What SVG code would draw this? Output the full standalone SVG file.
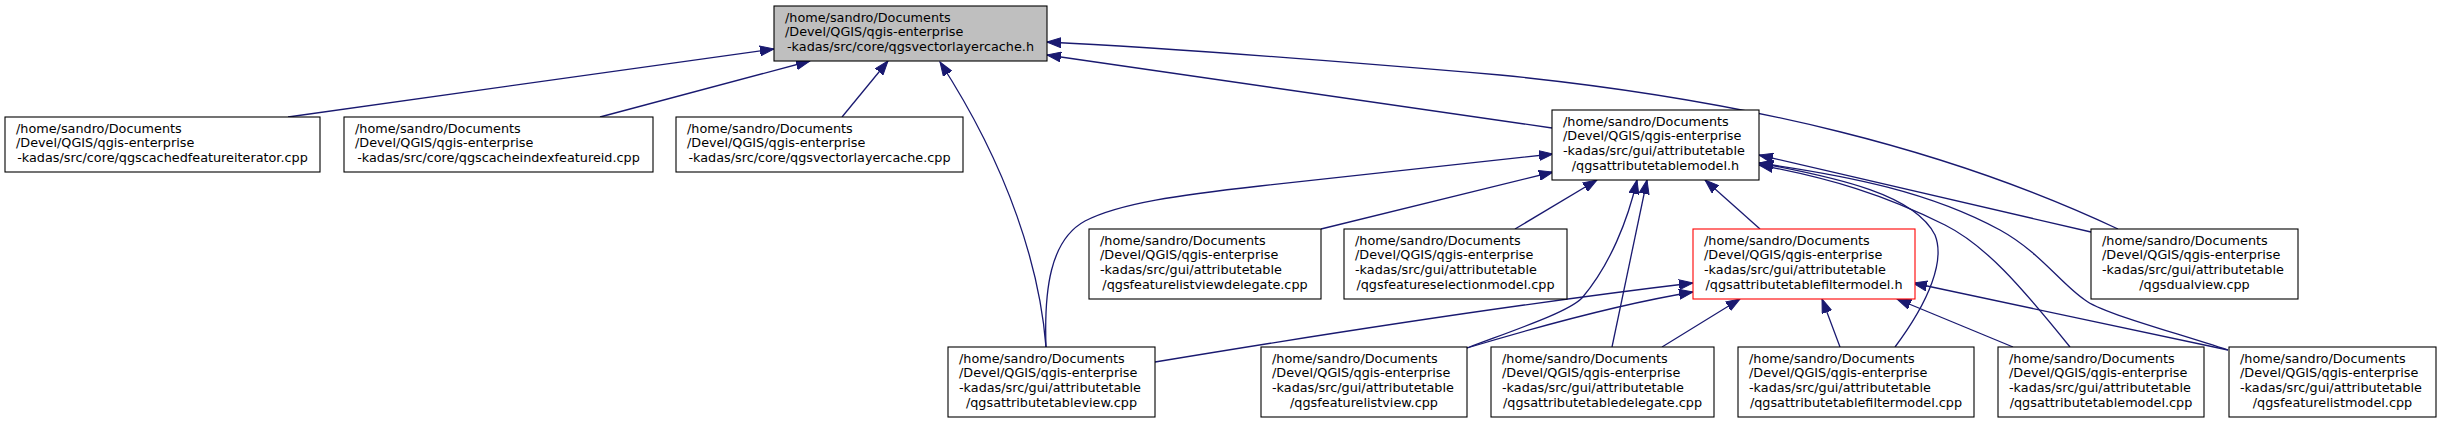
<svg xmlns="http://www.w3.org/2000/svg" width="2441" height="423" viewBox="0 0 2441 423">
<style>
.node rect { fill: #ffffff; stroke: #000000; stroke-width: 1.1; }
.node.main rect { fill: #bfbfbf; }
.node.red rect { stroke: #ff0000; }
.node text { font-family: "DejaVu Sans", "Liberation Sans", sans-serif; font-size: 12.8px; fill: #000000; }
.node text.c { text-anchor: middle; }
.edges path { fill: none; stroke: #191970; stroke-width: 1.3; marker-end: url(#ah); }
</style>
<defs>
<marker id="ah" markerUnits="userSpaceOnUse" markerWidth="15" markerHeight="11" viewBox="0 0 15 11" refX="14" refY="5.5" orient="auto">
<path d="M0,0.5 L14,5.5 L0,10.5 z" fill="#191970" stroke="#191970" stroke-width="1"/>
</marker>
</defs>
<rect x="0" y="0" width="2441" height="423" fill="#ffffff"/>
<g id="edges" class="edges">
<path d="M288,117 L774,49"/>
<path d="M600,117 L810,61"/>
<path d="M842,117 L888,61"/>
<path d="M1046,347 C1040,270 1010,170 940,62"/>
<path d="M1552,128 L1047,55"/>
<path d="M2118,229 C1950,150 1750,100 1500,75 C1300,58 1150,47 1047,42"/>
<path d="M1321,229 L1553,172"/>
<path d="M1515,229 L1597,180"/>
<path d="M1046,347 C1044,290 1050,240 1085,221 C1120,203 1180,195 1260,186 L1553,154"/>
<path d="M1467,348 C1520,328 1568,312 1582,298 C1610,265 1628,220 1637,180"/>
<path d="M1612,347 L1647,180"/>
<path d="M1760,229 L1705,180"/>
<path d="M2091,232 L1759,155"/>
<path d="M1895,347 C1930,300 1945,260 1935,235 C1915,195 1840,178 1759,163"/>
<path d="M2070,347 C2020,285 1985,245 1945,225 C1885,195 1830,178 1759,165"/>
<path d="M2228,350 C2160,328 2100,312 2085,300 C2062,285 2040,252 2000,230 C1930,192 1850,176 1759,163"/>
<path d="M1155,362 C1300,338 1500,306 1693,283"/>
<path d="M1467,348 C1540,326 1620,304 1693,292"/>
<path d="M1662,347 L1740,299"/>
<path d="M1840,347 L1822,299"/>
<path d="M2013,347 L1897,299"/>
<path d="M2228,350 L1913,283"/>
</g>
<g id="n_vectorlayercache_h" class="node main">
<rect x="774" y="6" width="273" height="55"/>
<text x="785" y="21.7">/home/sandro/Documents</text>
<text x="785" y="36.4">/Devel/QGIS/qgis-enterprise</text>
<text class="c" x="910.5" y="51.1">-kadas/src/core/qgsvectorlayercache.h</text>
</g>
<g id="n_cachedfeatureiterator" class="node">
<rect x="5" y="117" width="315" height="55"/>
<text x="16" y="132.7">/home/sandro/Documents</text>
<text x="16" y="147.4">/Devel/QGIS/qgis-enterprise</text>
<text class="c" x="162.5" y="162.1">-kadas/src/core/qgscachedfeatureiterator.cpp</text>
</g>
<g id="n_cacheindexfeatureid" class="node">
<rect x="344" y="117" width="309" height="55"/>
<text x="355" y="132.7">/home/sandro/Documents</text>
<text x="355" y="147.4">/Devel/QGIS/qgis-enterprise</text>
<text class="c" x="498.5" y="162.1">-kadas/src/core/qgscacheindexfeatureid.cpp</text>
</g>
<g id="n_vectorlayercache_cpp" class="node">
<rect x="676" y="117" width="287" height="55"/>
<text x="687" y="132.7">/home/sandro/Documents</text>
<text x="687" y="147.4">/Devel/QGIS/qgis-enterprise</text>
<text class="c" x="819.5" y="162.1">-kadas/src/core/qgsvectorlayercache.cpp</text>
</g>
<g id="n_attributetablemodel_h" class="node">
<rect x="1552" y="110" width="207" height="70"/>
<text x="1563" y="125.7">/home/sandro/Documents</text>
<text x="1563" y="140.4">/Devel/QGIS/qgis-enterprise</text>
<text x="1563" y="155.1">-kadas/src/gui/attributetable</text>
<text class="c" x="1655.5" y="169.8">/qgsattributetablemodel.h</text>
</g>
<g id="n_featurelistviewdelegate" class="node">
<rect x="1089" y="229" width="232" height="70"/>
<text x="1100" y="244.7">/home/sandro/Documents</text>
<text x="1100" y="259.4">/Devel/QGIS/qgis-enterprise</text>
<text x="1100" y="274.1">-kadas/src/gui/attributetable</text>
<text class="c" x="1205" y="288.8">/qgsfeaturelistviewdelegate.cpp</text>
</g>
<g id="n_featureselectionmodel" class="node">
<rect x="1344" y="229" width="223" height="70"/>
<text x="1355" y="244.7">/home/sandro/Documents</text>
<text x="1355" y="259.4">/Devel/QGIS/qgis-enterprise</text>
<text x="1355" y="274.1">-kadas/src/gui/attributetable</text>
<text class="c" x="1455.5" y="288.8">/qgsfeatureselectionmodel.cpp</text>
</g>
<g id="n_attributetablefiltermodel_h" class="node red">
<rect x="1693" y="229" width="222" height="70"/>
<text x="1704" y="244.7">/home/sandro/Documents</text>
<text x="1704" y="259.4">/Devel/QGIS/qgis-enterprise</text>
<text x="1704" y="274.1">-kadas/src/gui/attributetable</text>
<text class="c" x="1804" y="288.8">/qgsattributetablefiltermodel.h</text>
</g>
<g id="n_dualview" class="node">
<rect x="2091" y="229" width="207" height="70"/>
<text x="2102" y="244.7">/home/sandro/Documents</text>
<text x="2102" y="259.4">/Devel/QGIS/qgis-enterprise</text>
<text x="2102" y="274.1">-kadas/src/gui/attributetable</text>
<text class="c" x="2194.5" y="288.8">/qgsdualview.cpp</text>
</g>
<g id="n_attributetableview" class="node">
<rect x="948" y="347" width="207" height="70"/>
<text x="959" y="362.7">/home/sandro/Documents</text>
<text x="959" y="377.4">/Devel/QGIS/qgis-enterprise</text>
<text x="959" y="392.1">-kadas/src/gui/attributetable</text>
<text class="c" x="1051.5" y="406.8">/qgsattributetableview.cpp</text>
</g>
<g id="n_featurelistview" class="node">
<rect x="1261" y="347" width="206" height="70"/>
<text x="1272" y="362.7">/home/sandro/Documents</text>
<text x="1272" y="377.4">/Devel/QGIS/qgis-enterprise</text>
<text x="1272" y="392.1">-kadas/src/gui/attributetable</text>
<text class="c" x="1364" y="406.8">/qgsfeaturelistview.cpp</text>
</g>
<g id="n_attributetabledelegate" class="node">
<rect x="1491" y="347" width="223" height="70"/>
<text x="1502" y="362.7">/home/sandro/Documents</text>
<text x="1502" y="377.4">/Devel/QGIS/qgis-enterprise</text>
<text x="1502" y="392.1">-kadas/src/gui/attributetable</text>
<text class="c" x="1602.5" y="406.8">/qgsattributetabledelegate.cpp</text>
</g>
<g id="n_attributetablefiltermodel_cpp" class="node">
<rect x="1738" y="347" width="236" height="70"/>
<text x="1749" y="362.7">/home/sandro/Documents</text>
<text x="1749" y="377.4">/Devel/QGIS/qgis-enterprise</text>
<text x="1749" y="392.1">-kadas/src/gui/attributetable</text>
<text class="c" x="1856" y="406.8">/qgsattributetablefiltermodel.cpp</text>
</g>
<g id="n_attributetablemodel_cpp" class="node">
<rect x="1998" y="347" width="206" height="70"/>
<text x="2009" y="362.7">/home/sandro/Documents</text>
<text x="2009" y="377.4">/Devel/QGIS/qgis-enterprise</text>
<text x="2009" y="392.1">-kadas/src/gui/attributetable</text>
<text class="c" x="2101" y="406.8">/qgsattributetablemodel.cpp</text>
</g>
<g id="n_featurelistmodel" class="node">
<rect x="2229" y="347" width="207" height="70"/>
<text x="2240" y="362.7">/home/sandro/Documents</text>
<text x="2240" y="377.4">/Devel/QGIS/qgis-enterprise</text>
<text x="2240" y="392.1">-kadas/src/gui/attributetable</text>
<text class="c" x="2332.5" y="406.8">/qgsfeaturelistmodel.cpp</text>
</g>
</svg>
